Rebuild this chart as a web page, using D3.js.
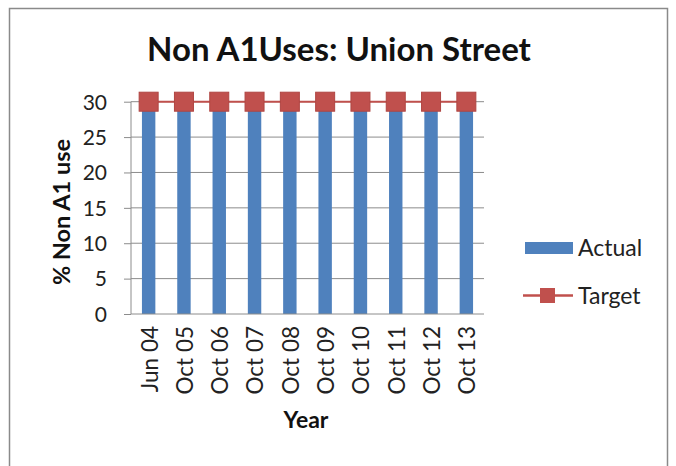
<!DOCTYPE html>
<html><head><meta charset="utf-8">
<script src="https://cdn.jsdelivr.net/npm/d3@7"></script>
<style>body{margin:0;background:#fff}svg{display:block}</style>
</head><body><svg id="c" width="676" height="466"></svg>
<script>
const categories = ["Jun 04","Oct 05","Oct 06","Oct 07","Oct 08","Oct 09","Oct 10","Oct 11","Oct 12","Oct 13"];
const actual = [30,30,30,30,30,30,30,30,30,30];
const target = [30,30,30,30,30,30,30,30,30,30];
const yTicks = [0,5,10,15,20,25,30];

const font = "Lato, 'Open Sans', sans-serif";
const svg = d3.select("#c");
svg.append("rect").attr("width",676).attr("height",466).attr("fill","#fff");
svg.append("rect").attr("x",9.5).attr("y",8.5).attr("width",658).attr("height",480)
  .attr("fill","none").attr("stroke","#8a8a8a").attr("stroke-width",1.5);

const L=131, R=484, T=101.7, B=314;
const x = d3.scaleBand().domain(categories).range([L,R]).paddingInner(0.62).paddingOuter(0.31);
const xc = d3.scalePoint().domain(categories).range([L,R]).padding(0.5);
const y = d3.scaleLinear().domain([0,30]).range([B,T]);

// gridlines
svg.append("g").selectAll("line").data(yTicks.filter(d=>d>0)).join("line")
  .attr("x1",L).attr("x2",R).attr("y1",d=>y(d)).attr("y2",d=>y(d))
  .attr("stroke","#8c8c8c").attr("stroke-width",1);

// y axis
const ya = svg.append("g").attr("transform",`translate(${L},0)`)
  .call(d3.axisLeft(y).tickValues(yTicks).tickSize(7).tickPadding(17));
ya.select(".domain").attr("stroke","#8c8c8c").attr("d",`M-0,${B}V${T}`);
ya.selectAll(".tick line").attr("stroke","#8c8c8c");
ya.selectAll("text").attr("font-family",font).attr("font-size",21).attr("fill","#222").attr("dy","0.35em");

// bars
svg.append("g").selectAll("rect").data(actual).join("rect")
  .attr("x",(d,i)=>x(categories[i])).attr("width",x.bandwidth())
  .attr("y",d=>y(d)).attr("height",d=>B-y(d)).attr("fill","#4F81BD");

// x axis line
svg.append("line").attr("x1",L).attr("x2",R).attr("y1",B).attr("y2",B).attr("stroke","#8c8c8c");

// target line
svg.append("path").datum(target)
  .attr("d",d3.line().x((d,i)=>xc(categories[i])).y(d=>y(d)))
  .attr("fill","none").attr("stroke","#C0504D").attr("stroke-width",2);
svg.append("g").selectAll("rect").data(target).join("rect")
  .attr("x",(d,i)=>xc(categories[i])-9.5).attr("y",d=>y(d)-9.5)
  .attr("width",19).attr("height",19).attr("fill","#C0504D").attr("stroke","#b04542").attr("stroke-width",1);

// x labels
svg.append("g").selectAll("text").data(categories).join("text")
  .attr("transform",d=>`translate(${xc(d)+1},326) rotate(-90)`)
  .attr("text-anchor","end").attr("dy","0.35em")
  .attr("font-family",font).attr("font-size",22.5).attr("fill","#222").text(d=>d);

// titles
svg.append("text").attr("x",339).attr("y",61).attr("text-anchor","middle")
  .attr("font-family",font).attr("font-weight","bold").attr("font-size",33).attr("fill","#111")
  .text("Non A1Uses: Union Street");
svg.append("text").attr("transform","translate(70,212) rotate(-90)").attr("text-anchor","middle")
  .attr("font-family",font).attr("font-weight","bold").attr("font-size",23.5).attr("fill","#111")
  .text("% Non A1 use");
svg.append("text").attr("x",306).attr("y",428).attr("text-anchor","middle")
  .attr("font-family",font).attr("font-weight","bold").attr("font-size",23).attr("fill","#111")
  .text("Year");

// legend
const lg = svg.append("g");
lg.append("rect").attr("x",525).attr("y",242).attr("width",48).attr("height",12).attr("fill","#4F81BD");
lg.append("text").attr("x",578).attr("y",248).attr("dy","0.35em")
  .attr("font-family",font).attr("font-size",23).attr("fill","#222").text("Actual");
lg.append("line").attr("x1",523).attr("x2",573).attr("y1",295.5).attr("y2",295.5)
  .attr("stroke","#C0504D").attr("stroke-width",2.5);
lg.append("rect").attr("x",540).attr("y",288).attr("width",15).attr("height",15).attr("fill","#C0504D");
lg.append("text").attr("x",578).attr("y",295.5).attr("dy","0.35em")
  .attr("font-family",font).attr("font-size",23).attr("fill","#222").text("Target");
</script></body></html>
